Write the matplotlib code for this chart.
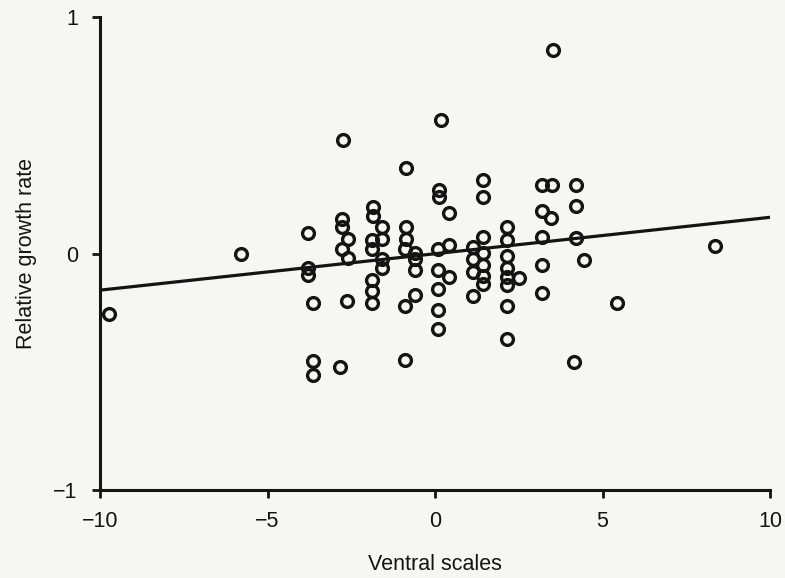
import matplotlib.pyplot as plt

plt.rcParams["font.family"] = ["Liberation Sans", "DejaVu Sans"]

# values
ventral_scales = [
    -9.73, -5.79, -3.79, -3.79, -3.79, -3.64, -3.64, -3.64,
    -2.75, -2.78, -2.78, -2.60, -2.78, -2.60, -2.63, -2.84,
    -1.85, -1.85, -1.58, -1.58, -1.88, -1.88, -1.58, -1.58,
    -1.88, -1.88, -1.88,
    -0.87, -0.87, -0.87, -0.90, -0.60, -0.60, -0.60, -0.60, -0.90, -0.90,
    0.18, 0.12, 0.12, 0.42, 0.10, 0.42, 0.10, 0.42, 0.10, 0.10, 0.10,
    1.43, 1.43, 1.13, 1.13, 1.13, 1.13, 1.43, 1.43, 1.43, 1.43, 1.43,
    2.15, 2.15, 2.15, 2.15, 2.15, 2.15, 2.50, 2.15, 2.15,
    3.19, 3.49, 4.20, 3.19, 3.46, 4.20, 3.19, 4.20, 4.45, 3.19, 3.19,
    3.52, 5.43, 4.15, 8.36,
]
growth_rate = [
    -0.255, 0.000, 0.085, -0.060, -0.090, -0.210, -0.455, -0.515,
    0.480, 0.145, 0.110, 0.060, 0.017, -0.017, -0.200, -0.480,
    0.195, 0.160, 0.110, 0.060, 0.055, 0.017, -0.025, -0.060,
    -0.110, -0.160, -0.210,
    0.360, 0.110, 0.060, 0.017, 0.004, -0.025, -0.070, -0.175, -0.220, -0.450,
    0.566, 0.270, 0.240, 0.170, 0.017, 0.034, -0.068, -0.098, -0.150, -0.240, -0.320,
    0.310, 0.240, 0.026, -0.025, -0.080, -0.180, 0.070, 0.004, -0.050, -0.094, -0.130,
    0.110, 0.055, -0.010, -0.060, -0.100, -0.135, -0.105, -0.220, -0.360,
    0.290, 0.290, 0.290, 0.180, 0.150, 0.200, 0.070, 0.064, -0.026, -0.050, -0.166,
    0.860, -0.210, -0.460, 0.030,
]
# fitted line, end points as drawn
fit_x = [-10, 10]
fit_y = [-0.155, 0.153]

ink = "#141414"
paper = "#f6f6f4"

fig = plt.figure(figsize=(7.85, 5.78), dpi=100, facecolor=paper)
ax = fig.add_axes([100 / 785, 88 / 578, 670 / 785, 473 / 578], facecolor=paper)

ax.plot(fit_x, fit_y, color=ink, lw=2.3, zorder=2)
ax.plot(ventral_scales, growth_rate, "o", ms=8.5, mew=2.4, mfc="none",
        mec=ink, zorder=3, clip_on=False)

ax.set_xlim(-10, 10)
ax.set_ylim(-1, 1)
ax.set_xticks([-10, -5, 0, 5, 10])
ax.set_yticks([-1, 0, 1])

for side in ["top", "right"]:
    ax.spines[side].set_visible(False)
for side in ["left", "bottom"]:
    ax.spines[side].set_linewidth(2.2)
    ax.spines[side].set_color(ink)

ax.tick_params(direction="out", length=6, width=2, colors=ink, labelsize=15.5)
ax.tick_params(axis="x", pad=9)
ax.tick_params(axis="y", pad=10)
ax.set_xlabel("Ventral scales", fontsize=15.5, color=ink, labelpad=16)
ax.set_ylabel("Relative growth rate", fontsize=15.5, color=ink, labelpad=12)

fig.savefig("out.png", dpi=100, facecolor=paper)
